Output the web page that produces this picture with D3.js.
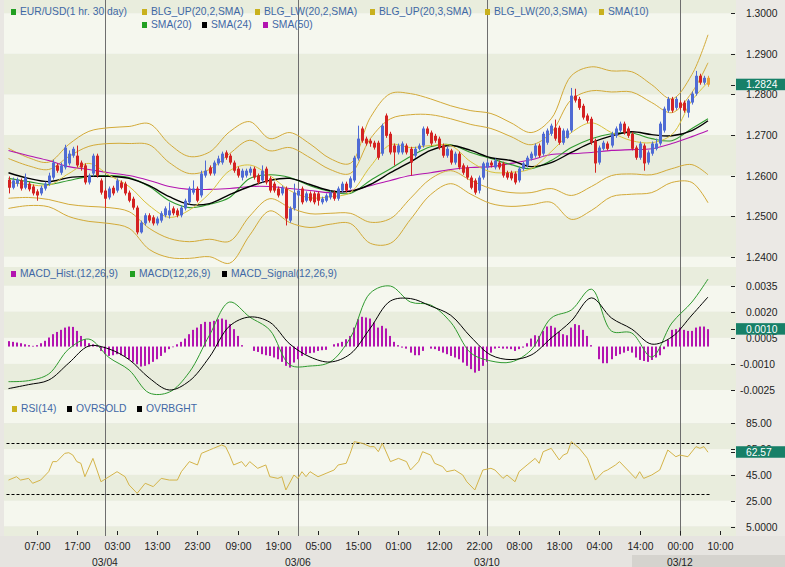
<!DOCTYPE html>
<html><head><meta charset="utf-8">
<script src="https://cdn.jsdelivr.net/npm/d3@7"></script>
<style>
body{margin:0;background:#e8e6e2;}
svg{display:block;font-family:"Liberation Sans",Arial,sans-serif;}
</style></head><body>
<svg id="c" width="785" height="567"></svg>
<script>
// ---------------- DATA ----------------
const openP = [1.2590,1.2570,1.2580,1.2588,1.2570,1.2580,1.2573,1.2561,1.2556,1.2568,
1.2580,1.2595,1.2625,1.2607,1.2620,1.2630,1.2649,1.2649,1.2632,1.2625,
1.2583,1.2605,1.2649,1.2588,1.2563,1.2546,1.2570,1.2563,1.2583,1.2580,
1.2558,1.2543,1.2521,1.2460,1.2482,1.2502,1.2497,1.2482,1.2489,1.2502,
1.2502,1.2519,1.2514,1.2502,1.2519,1.2534,1.2558,1.2568,1.2551,1.2600,
1.2620,1.2605,1.2630,1.2632,1.2657,1.2649,1.2632,1.2617,1.2595,1.2600,
1.2607,1.2617,1.2600,1.2588,1.2617,1.2593,1.2580,1.2568,1.2556,1.2568,
1.2489,1.2519,1.2551,1.2568,1.2538,1.2556,1.2556,1.2556,1.2534,1.2538,
1.2546,1.2558,1.2543,1.2563,1.2580,1.2570,1.2588,1.2642,1.2716,1.2691,
1.2686,1.2681,1.2681,1.2654,1.2748,1.2703,1.2674,1.2657,1.2657,1.2674,
1.2666,1.2649,1.2666,1.2674,1.2716,1.2706,1.2698,1.2691,1.2674,1.2649,
1.2662,1.2632,1.2654,1.2625,1.2620,1.2595,1.2588,1.2563,1.2595,1.2620,
1.2632,1.2620,1.2632,1.2630,1.2607,1.2607,1.2605,1.2588,1.2617,1.2625,
1.2642,1.2649,1.2674,1.2654,1.2681,1.2703,1.2718,1.2718,1.2681,1.2693,
1.2711,1.2797,1.2789,1.2772,1.2748,1.2740,1.2686,1.2632,1.2666,1.2679,
1.2674,1.2698,1.2711,1.2728,1.2716,1.2703,1.2669,1.2644,1.2674,1.2632,
1.2654,1.2666,1.2679,1.2711,1.2760,1.2789,1.2767,1.2780,1.2780,1.2755,
1.2780,1.2802,1.2846,1.2829,1.2841];
const highP = [1.2598,1.2595,1.2595,1.2593,1.2605,1.2585,1.2578,1.2566,1.2575,1.2585,
1.2607,1.2639,1.2630,1.2632,1.2676,1.2662,1.2671,1.2674,1.2637,1.2630,
1.2605,1.2654,1.2654,1.2593,1.2568,1.2573,1.2575,1.2593,1.2588,1.2585,
1.2563,1.2548,1.2526,1.2489,1.2507,1.2507,1.2502,1.2499,1.2512,1.2524,
1.2534,1.2524,1.2519,1.2526,1.2543,1.2573,1.2588,1.2573,1.2612,1.2637,
1.2625,1.2637,1.2649,1.2659,1.2662,1.2654,1.2637,1.2622,1.2617,1.2617,
1.2622,1.2622,1.2605,1.2625,1.2622,1.2598,1.2585,1.2573,1.2575,1.2573,
1.2524,1.2580,1.2568,1.2573,1.2561,1.2561,1.2561,1.2561,1.2548,1.2556,
1.2563,1.2563,1.2573,1.2585,1.2585,1.2598,1.2649,1.2723,1.2721,1.2696,
1.2691,1.2686,1.2686,1.2728,1.2753,1.2708,1.2679,1.2679,1.2684,1.2679,
1.2671,1.2671,1.2679,1.2721,1.2721,1.2711,1.2703,1.2696,1.2679,1.2671,
1.2666,1.2659,1.2659,1.2630,1.2625,1.2600,1.2593,1.2600,1.2634,1.2637,
1.2637,1.2642,1.2637,1.2634,1.2612,1.2612,1.2610,1.2622,1.2634,1.2649,
1.2659,1.2679,1.2679,1.2708,1.2716,1.2728,1.2738,1.2723,1.2716,1.2716,
1.2816,1.2814,1.2794,1.2777,1.2753,1.2745,1.2691,1.2674,1.2686,1.2684,
1.2708,1.2721,1.2733,1.2733,1.2721,1.2708,1.2674,1.2684,1.2679,1.2662,
1.2684,1.2691,1.2733,1.2770,1.2794,1.2794,1.2794,1.2785,1.2785,1.2789,
1.2807,1.2858,1.2851,1.2846,1.2846];
const lowP = [1.2556,1.2566,1.2573,1.2563,1.2566,1.2561,1.2551,1.2538,1.2551,1.2563,
1.2575,1.2590,1.2607,1.2602,1.2615,1.2625,1.2644,1.2620,1.2612,1.2578,
1.2578,1.2598,1.2595,1.2553,1.2521,1.2541,1.2551,1.2558,1.2566,1.2551,
1.2534,1.2516,1.2455,1.2457,1.2477,1.2484,1.2477,1.2477,1.2484,1.2497,
1.2494,1.2502,1.2497,1.2497,1.2514,1.2529,1.2553,1.2534,1.2546,1.2595,
1.2600,1.2600,1.2625,1.2627,1.2639,1.2627,1.2607,1.2595,1.2588,1.2595,
1.2600,1.2590,1.2578,1.2583,1.2578,1.2558,1.2558,1.2546,1.2551,1.2477,
1.2484,1.2514,1.2546,1.2529,1.2534,1.2534,1.2529,1.2526,1.2529,1.2534,
1.2541,1.2538,1.2538,1.2558,1.2558,1.2566,1.2583,1.2637,1.2681,1.2674,
1.2671,1.2664,1.2639,1.2649,1.2693,1.2652,1.2625,1.2652,1.2652,1.2652,
1.2600,1.2644,1.2662,1.2669,1.2698,1.2674,1.2681,1.2664,1.2644,1.2644,
1.2627,1.2627,1.2615,1.2602,1.2590,1.2566,1.2553,1.2556,1.2590,1.2615,
1.2620,1.2615,1.2615,1.2595,1.2590,1.2588,1.2578,1.2583,1.2612,1.2620,
1.2637,1.2644,1.2644,1.2649,1.2676,1.2698,1.2686,1.2676,1.2676,1.2691,
1.2706,1.2780,1.2762,1.2738,1.2730,1.2676,1.2607,1.2627,1.2662,1.2662,
1.2669,1.2693,1.2706,1.2701,1.2693,1.2662,1.2639,1.2639,1.2612,1.2627,
1.2649,1.2662,1.2674,1.2706,1.2755,1.2755,1.2762,1.2762,1.2755,1.2743,
1.2775,1.2797,1.2824,1.2824,1.2819];
const closeP = [1.2570,1.2588,1.2590,1.2568,1.2595,1.2566,1.2556,1.2551,1.2570,1.2580,
1.2600,1.2632,1.2612,1.2625,1.2669,1.2654,1.2666,1.2625,1.2620,1.2583,
1.2600,1.2649,1.2600,1.2558,1.2543,1.2568,1.2556,1.2588,1.2570,1.2556,
1.2538,1.2521,1.2460,1.2484,1.2502,1.2489,1.2482,1.2494,1.2507,1.2519,
1.2514,1.2507,1.2502,1.2521,1.2538,1.2568,1.2568,1.2538,1.2605,1.2612,
1.2605,1.2632,1.2642,1.2654,1.2644,1.2632,1.2612,1.2600,1.2612,1.2612,
1.2617,1.2595,1.2583,1.2612,1.2583,1.2563,1.2563,1.2551,1.2570,1.2494,
1.2519,1.2558,1.2563,1.2534,1.2556,1.2538,1.2534,1.2538,1.2543,1.2551,
1.2558,1.2543,1.2568,1.2580,1.2563,1.2593,1.2644,1.2691,1.2686,1.2679,
1.2679,1.2669,1.2644,1.2723,1.2698,1.2657,1.2657,1.2674,1.2679,1.2657,
1.2632,1.2666,1.2674,1.2716,1.2703,1.2679,1.2686,1.2669,1.2649,1.2666,
1.2632,1.2654,1.2620,1.2607,1.2595,1.2570,1.2558,1.2595,1.2630,1.2632,
1.2625,1.2637,1.2620,1.2600,1.2595,1.2593,1.2583,1.2617,1.2630,1.2644,
1.2654,1.2674,1.2649,1.2703,1.2711,1.2723,1.2691,1.2681,1.2711,1.2711,
1.2797,1.2785,1.2767,1.2743,1.2735,1.2681,1.2630,1.2669,1.2681,1.2666,
1.2703,1.2716,1.2728,1.2706,1.2698,1.2666,1.2644,1.2679,1.2630,1.2657,
1.2679,1.2679,1.2728,1.2765,1.2789,1.2760,1.2789,1.2767,1.2760,1.2785,
1.2802,1.2846,1.2829,1.2841,1.2824];

// indicator values read every 5 bars
const sampleIdx = [0,5,10,15,20,25,30,35,40,45,50,55,60,65,70,75,80,85,90,95,100,105,110,115,120,125,130,135,140,145,150,155,160,165,170,174];
const sma10 = [1.2583,1.2578,1.2576,1.2605,1.2630,1.2601,1.2573,1.2526,1.2497,1.2515,1.2556,1.2612,1.2626,1.2600,1.2563,1.2545,1.2548,1.2558,1.2622,1.2676,1.2669,1.2674,1.2674,1.2634,1.2609,1.2608,1.2617,1.2659,1.2706,1.2730,1.2706,1.2686,1.2681,1.2701,1.2785,1.2830];
const sma20 = [1.2593,1.2585,1.2578,1.2588,1.2598,1.2600,1.2595,1.2573,1.2538,1.2521,1.2529,1.2546,1.2593,1.2602,1.2595,1.2575,1.2561,1.2556,1.2588,1.2617,1.2647,1.2671,1.2676,1.2657,1.2642,1.2627,1.2617,1.2637,1.2669,1.2691,1.2703,1.2705,1.2691,1.2686,1.2716,1.2740];
const sma24 = [1.2607,1.2593,1.2585,1.2595,1.2598,1.2598,1.2593,1.2575,1.2548,1.2529,1.2531,1.2553,1.2573,1.2588,1.2593,1.2578,1.2563,1.2561,1.2578,1.2607,1.2634,1.2662,1.2674,1.2662,1.2644,1.2637,1.2622,1.2632,1.2657,1.2681,1.2698,1.2708,1.2701,1.2698,1.2711,1.2735];
const sma50 = [1.2662,1.2649,1.2637,1.2622,1.2615,1.2607,1.2600,1.2588,1.2573,1.2566,1.2566,1.2568,1.2573,1.2573,1.2568,1.2563,1.2558,1.2563,1.2575,1.2588,1.2600,1.2607,1.2615,1.2620,1.2622,1.2630,1.2639,1.2652,1.2654,1.2657,1.2662,1.2664,1.2666,1.2679,1.2696,1.2711];
const blgUp2 = [1.2642,1.2624,1.2615,1.2647,1.2672,1.2679,1.2679,1.2676,1.2632,1.2605,1.2615,1.2654,1.2687,1.2661,1.2669,1.2644,1.2615,1.2605,1.2691,1.2740,1.2750,1.2750,1.2740,1.2726,1.2716,1.2696,1.2676,1.2706,1.2787,1.2809,1.2806,1.2806,1.2780,1.2755,1.2805,1.2878];
const blgLw2 = [1.2544,1.2546,1.2541,1.2529,1.2524,1.2521,1.2511,1.2470,1.2445,1.2437,1.2443,1.2438,1.2500,1.2543,1.2521,1.2506,1.2507,1.2507,1.2485,1.2494,1.2544,1.2592,1.2612,1.2588,1.2568,1.2558,1.2558,1.2568,1.2551,1.2573,1.2600,1.2604,1.2602,1.2617,1.2627,1.2602];
const blgUp3 = [1.2667,1.2644,1.2633,1.2677,1.2709,1.2718,1.2721,1.2728,1.2678,1.2647,1.2658,1.2708,1.2733,1.2691,1.2706,1.2678,1.2642,1.2630,1.2743,1.2802,1.2802,1.2789,1.2772,1.2760,1.2753,1.2730,1.2706,1.2740,1.2846,1.2868,1.2858,1.2856,1.2824,1.2789,1.2849,1.2947];
const blgLw3 = [1.2519,1.2526,1.2523,1.2499,1.2487,1.2482,1.2470,1.2418,1.2398,1.2396,1.2400,1.2384,1.2453,1.2513,1.2484,1.2472,1.2480,1.2482,1.2433,1.2433,1.2492,1.2553,1.2580,1.2554,1.2531,1.2524,1.2528,1.2534,1.2492,1.2514,1.2548,1.2554,1.2558,1.2583,1.2583,1.2533];

const macdHist = [0.00031,0.00027,0.00023,0.00019,0.00013,0.00008,0.00004,0.00008,0.00019,0.00033,
0.00052,0.00071,0.00084,0.00096,0.00109,0.00115,0.00113,0.0009,0.00061,0.00042,
0.00019,0.00013,0.00008,-0.00025,-0.00044,-0.00054,-0.0005,-0.00044,-0.0005,-0.00058,
-0.00073,-0.00088,-0.00102,-0.00115,-0.00111,-0.00102,-0.00088,-0.00073,-0.00054,-0.00035,
-0.00015,-0.00004,0.00013,0.00027,0.00046,0.00071,0.00096,0.00109,0.00129,0.00142,
0.00142,0.00148,0.00157,0.00161,0.00154,0.00129,0.001,0.00061,0.00008,0,
0,-0.00025,-0.00031,-0.00044,-0.0005,-0.00054,-0.00063,-0.00073,-0.00088,-0.00111,
-0.00121,-0.00092,-0.00073,-0.00054,-0.00044,-0.00038,-0.00035,-0.00025,-0.00021,-0.00019,
0,0.00013,0.00019,0.00027,0.00042,0.00061,0.00109,0.00157,0.00171,0.00167,
0.00161,0.00138,0.00109,0.00119,0.00104,0.00061,0.00027,0.00008,-0.00006,-0.00012,
-0.00035,-0.0005,-0.0005,-0.00025,0,-0.00012,-0.00015,-0.00025,-0.00035,-0.00044,
-0.00054,-0.00063,-0.00073,-0.00092,-0.00111,-0.0013,-0.0015,-0.0014,-0.00111,-0.00088,
-0.00035,-0.00012,-0.00008,-0.00012,-0.00012,-0.00015,-0.00025,-0.00015,-0.00006,0.00019,
0.00046,0.00065,0.00061,0.0009,0.00115,0.00119,0.00109,0.00084,0.00071,0.00065,
0.00109,0.00129,0.00123,0.00096,0.00061,0.00008,0,-0.00073,-0.00096,-0.00096,
-0.00073,-0.00054,-0.00044,-0.00035,-0.00025,-0.00035,-0.00063,-0.00077,-0.00083,-0.00088,
-0.00077,-0.00063,-0.0005,-0.00015,0.00038,0.00096,0.001,0.00109,0.00096,0.0009,
0.0009,0.00109,0.00115,0.00115,0.001];
const macdLine = [-0.00202,-0.00196,-0.00158,-0.00014,0.00043,-0.00063,-0.00135,-0.00267,-0.00262,-0.00147,0.00066,0.00256,0.0017,0.00095,-0.00106,-0.00112,-0.00089,0.00049,0.00308,0.00348,0.00256,0.00239,0.0014,-0.00037,-0.00083,-0.00089,-0.0002,0.00164,0.0021,0.0033,0.00089,0.00078,-0.0006,0.00135,0.00256,0.00388];
const macdSignal = [-0.00242,-0.00219,-0.00193,-0.00095,0.00003,-0.00014,-0.00075,-0.00181,-0.0025,-0.00198,-0.0006,0.00118,0.0017,0.0014,0.00014,-0.0006,-0.00089,-0.00043,0.00106,0.00262,0.00276,0.00233,0.0018,0.00055,-0.00049,-0.00075,-0.00049,0.00049,0.00147,0.0028,0.00164,0.00101,0.00014,0.00055,0.00181,0.00285];

const rsiIdx = [0,2,3,5,6,8,10,11,12,14,15,16,17,18,19,21,22,23,25,27,29,30,32,34,36,38,40,42,43,45,47,48,50,51,53,54,55,56,58,59,60,62,64,65,67,68,69,71,72,73,74,75,77,79,81,82,84,85,86,88,90,91,92,93,95,97,99,100,102,103,105,106,108,109,111,113,114,116,118,120,121,123,124,126,127,129,131,132,133,135,137,138,139,140,142,144,146,148,149,151,152,154,156,157,158,160,162,164,166,167,169,171,172,173,174];
const rsiVal = [41.0,43.6,41.0,42.3,38.5,41.0,47.5,55.3,55.3,61.7,62.2,60.4,55.3,54.0,43.6,57.8,48.8,39.7,43.6,47.5,43.6,37.2,30.7,38.5,35.9,42.3,41.0,41.0,47.5,55.3,52.7,61.7,64.3,65.6,68.2,66.9,60.4,52.7,55.3,51.4,55.3,50.1,52.7,43.6,42.3,43.6,33.3,44.9,42.3,47.5,43.6,47.5,43.6,46.2,48.8,52.7,54.0,61.7,70.8,69.5,66.9,66.9,63.0,69.5,55.3,57.8,55.3,48.8,55.3,63.0,60.4,54.0,51.4,47.5,48.8,44.9,39.7,33.3,48.8,50.1,48.8,42.3,44.9,39.7,47.5,52.7,57.8,54.0,63.0,65.6,56.6,60.4,61.7,70.8,65.6,57.8,41.0,47.5,48.8,52.7,55.3,48.8,42.3,47.5,42.3,44.9,48.8,64.3,59.1,60.4,59.1,66.9,65.6,66.9,62.57];
const rsiOverbought = 70, rsiOversold = 30;

const timeTickIdx = [7,17,27,37,47,57,67,77,87,97,107,117,127,137,147,157,167,177];
const timeTickLabels = ["07:00","17:00","03:00","13:00","23:00","09:00","19:00","05:00","15:00","01:00","12:00","22:00","08:00","18:00","04:00","14:00","00:00","10:00"];
const dayIdx = [24,72,119,167];
const dayLabels = ["03/04","03/06","03/10","03/12"];

const priceTicks = [1.30,1.29,1.28,1.27,1.26,1.25,1.24];
const priceTickLabels = ["1.3000","1.2900","1.2800","1.2700","1.2600","1.2500","1.2400"];
const macdTicks = [0.0035,0.0020,0.0005,-0.0010,-0.0025];
const macdTickLabels = ["0.0035","0.0020","0.0005","-0.0010","-0.0025"];
const rsiTicks = [85,65,45,25,5];
const rsiTickLabels = ["85.00","65.00","45.00","25.00","5.0000"];
const lastPrice = 1.2824, lastHist = 0.0010, lastRsi = 62.57;
const lastPriceLabel = "1.2824", lastHistLabel = "0.0010", lastRsiLabel = "62.57";

// ---------------- DRAW ----------------
const svg = d3.select("#c");
const plotL = 4, plotR = 736, plotB = 536;
const P = {top:0, bot:267}, M = {top:267, bot:403}, R = {top:403, bot:536};
const LIGHT = "#f5f7ee", DARK = "#e9eddd";
const GOLD = "#d3aa38", GREEN = "#2f9a2f", MAG = "#b314b0", BLUE = "#4f6bd4", RED = "#d42222";
const TXT = "#3f68a6";

const x = d3.scaleLinear().domain([0,174]).range([8.5,708]);
const yP = d3.scaleLinear().domain([1.24,1.30]).range([256.7,13.3]);
const yM = d3.scaleLinear().domain([-0.0025,0.0035]).range([390,285.7]);
const yR = d3.scaleLinear().domain([5,85]).range([526.5,423.3]);

svg.append("rect").attr("width",785).attr("height",567).attr("fill","#e9e7e3");

// stripes
function stripes(panel, scale, ticks, darkEven){
  const ys = ticks.map(t=>scale(t)).sort((a,b)=>a-b);
  const edges = [panel.top, ...ys, panel.bot];
  for(let k=0;k<edges.length-1;k++){
    const dark = darkEven ? (k%2===0) : (k%2===1);
    svg.append("rect").attr("x",plotL).attr("y",edges[k]).attr("width",plotR-plotL)
      .attr("height",edges[k+1]-edges[k]).attr("fill",dark?DARK:LIGHT);
  }
}
stripes(P,yP,priceTicks,true);
stripes(M,yM,macdTicks,true);
stripes(R,yR,rsiTicks,false);

// bottom axis area
svg.append("rect").attr("x",0).attr("y",plotB).attr("width",785).attr("height",567-plotB).attr("fill","#e6e4e0");
svg.append("rect").attr("x",632).attr("y",555).attr("width",153).attr("height",12).attr("fill","#d5d3ce");
svg.append("rect").attr("x",plotR).attr("y",0).attr("width",785-plotR).attr("height",plotB).attr("fill","#ebe9e5");

// clip paths
const defs = svg.append("defs");
[["cP",P],["cM",M],["cR",R]].forEach(([id,p])=>{
  defs.append("clipPath").attr("id",id).append("rect").attr("x",plotL).attr("y",p.top).attr("width",plotR-plotL).attr("height",p.bot-p.top);
});

// day separators
svg.append("g").selectAll("line").data(dayIdx).join("line")
  .attr("x1",d=>Math.round(x(d))+0.5).attr("x2",d=>Math.round(x(d))+0.5)
  .attr("y1",0).attr("y2",plotB).attr("stroke","#6e6e6e").attr("stroke-width",1);

// price panel lines
const gP = svg.append("g").attr("clip-path","url(#cP)");
const lineS = (scale)=>d3.line().x((d,k)=>x(sampleIdx[k])).y(d=>scale(d)).curve(d3.curveCatmullRom.alpha(0.5));
[[blgUp3,GOLD,1],[blgLw3,GOLD,1],[blgUp2,GOLD,1],[blgLw2,GOLD,1],[sma50,MAG,1.1],[sma20,GREEN,1.1],[sma24,"#000",1.4],[sma10,"#d9c23c",1]]
  .forEach(([arr,c,w])=>gP.append("path").attr("d",lineS(yP)(arr)).attr("fill","none").attr("stroke",c).attr("stroke-width",w));

// candles
const cIdx = d3.range(closeP.length);
const col = i => i===closeP.length-1 ? "#e8a23a" : (closeP[i]>openP[i] ? BLUE : RED);
gP.append("g").selectAll("line").data(cIdx).join("line")
  .attr("x1",i=>Math.round(x(i))+0.5).attr("x2",i=>Math.round(x(i))+0.5)
  .attr("y1",i=>yP(highP[i])).attr("y2",i=>yP(lowP[i])).attr("stroke",col).attr("stroke-width",1);
gP.append("g").selectAll("rect").data(cIdx).join("rect")
  .attr("x",i=>Math.round(x(i))-1).attr("width",3)
  .attr("y",i=>yP(Math.max(openP[i],closeP[i])))
  .attr("height",i=>Math.max(1,Math.abs(yP(openP[i])-yP(closeP[i]))))
  .attr("fill",col);

// MACD panel
const gM = svg.append("g").attr("clip-path","url(#cM)");
gM.append("g").selectAll("rect").data(cIdx).join("rect")
  .attr("x",i=>Math.round(x(i))-1).attr("width",2)
  .attr("y",i=>Math.min(yM(0),yM(macdHist[i])))
  .attr("height",i=>Math.abs(yM(macdHist[i])-yM(0)))
  .attr("fill",MAG);
gM.append("path").attr("d",lineS(yM)(macdLine)).attr("fill","none").attr("stroke",GREEN).attr("stroke-width",1);
gM.append("path").attr("d",lineS(yM)(macdSignal)).attr("fill","none").attr("stroke","#000").attr("stroke-width",1);

// RSI panel
const gR = svg.append("g").attr("clip-path","url(#cR)");
[rsiOverbought,rsiOversold].forEach(v=>{
  gR.append("line").attr("x1",x(0)-2).attr("x2",x(174)+2).attr("y1",Math.round(yR(v))+0.5).attr("y2",Math.round(yR(v))+0.5)
    .attr("stroke","#000").attr("stroke-dasharray","3,2").attr("stroke-width",1);
});
gR.append("path").attr("d",d3.line().x((d,k)=>x(rsiIdx[k])).y(d=>yR(d))(rsiVal))
  .attr("fill","none").attr("stroke","#d4b449").attr("stroke-width",1);

// right axes
function rAxis(scale,ticks,labels){
  const g = svg.append("g");
  ticks.forEach((t,k)=>{
    const yy = Math.round(scale(t))+0.5;
    g.append("line").attr("x1",731).attr("x2",735).attr("y1",yy).attr("y2",yy).attr("stroke","#222");
    g.append("text").attr("x",labels[k].startsWith("-")?740:746).attr("y",yy+3.8)
      .attr("font-size","10.3px").attr("fill","#222").text(labels[k]);
  });
}
rAxis(yP,priceTicks,priceTickLabels);
rAxis(yM,macdTicks,macdTickLabels);
rAxis(yR,rsiTicks,rsiTickLabels);

function hilite(scale,v,label){
  const yy = scale(v);
  svg.append("line").attr("x1",731).attr("x2",735).attr("y1",Math.round(yy)+0.5).attr("y2",Math.round(yy)+0.5).attr("stroke","#222");
  svg.append("rect").attr("x",736).attr("y",yy-6).attr("width",49).attr("height",11.5).attr("fill","#178068");
  svg.append("text").attr("x",746).attr("y",yy+3.8).attr("font-size","10.3px").attr("fill","#fff").text(label);
}
hilite(yP,lastPrice,lastPriceLabel);
hilite(yM,lastHist,lastHistLabel);
hilite(yR,lastRsi,lastRsiLabel);

// time axis
const gT = svg.append("g");
timeTickIdx.forEach((t,k)=>{
  const xx = Math.round(x(t))+0.5;
  gT.append("line").attr("x1",xx).attr("x2",xx).attr("y1",531).attr("y2",535).attr("stroke","#222");
  gT.append("text").attr("x",xx).attr("y",550).attr("text-anchor","middle").attr("font-size","10.3px").attr("fill","#222").text(timeTickLabels[k]);
});
dayIdx.forEach((t,k)=>{
  gT.append("text").attr("x",x(t)).attr("y",566).attr("text-anchor","middle").attr("font-size","10.3px").attr("fill","#222").text(dayLabels[k]);
});

// legends
function legend(items,y){
  items.forEach(([lx,c,label])=>{
    svg.append("rect").attr("x",lx).attr("y",y-4).attr("width",5).attr("height",6).attr("fill",c);
    svg.append("text").attr("x",lx+9).attr("y",y+2).attr("font-size","10.3px").attr("fill",TXT).text(label);
  });
}
legend([[11,"#22a022","EUR/USD(1 hr. 30 day)"],[142,"#c9b11e","BLG_UP(20,2,SMA)"],[255,"#c9b11e","BLG_LW(20,2,SMA)"],
        [370,"#c9b11e","BLG_UP(20,3,SMA)"],[485,"#c9b11e","BLG_LW(20,3,SMA)"],[599,"#c9b11e","SMA(10)"]],13);
legend([[142,"#22a022","SMA(20)"],[202,"#000","SMA(24)"],[263,MAG,"SMA(50)"]],26);
legend([[11,MAG,"MACD_Hist.(12,26,9)"],[130,"#22a022","MACD(12,26,9)"],[222,"#000","MACD_Signal(12,26,9)"]],275);
legend([[12,"#c9b11e","RSI(14)"],[67,"#000","OVRSOLD"],[137,"#000","OVRBGHT"]],410);
</script>
</body></html>
